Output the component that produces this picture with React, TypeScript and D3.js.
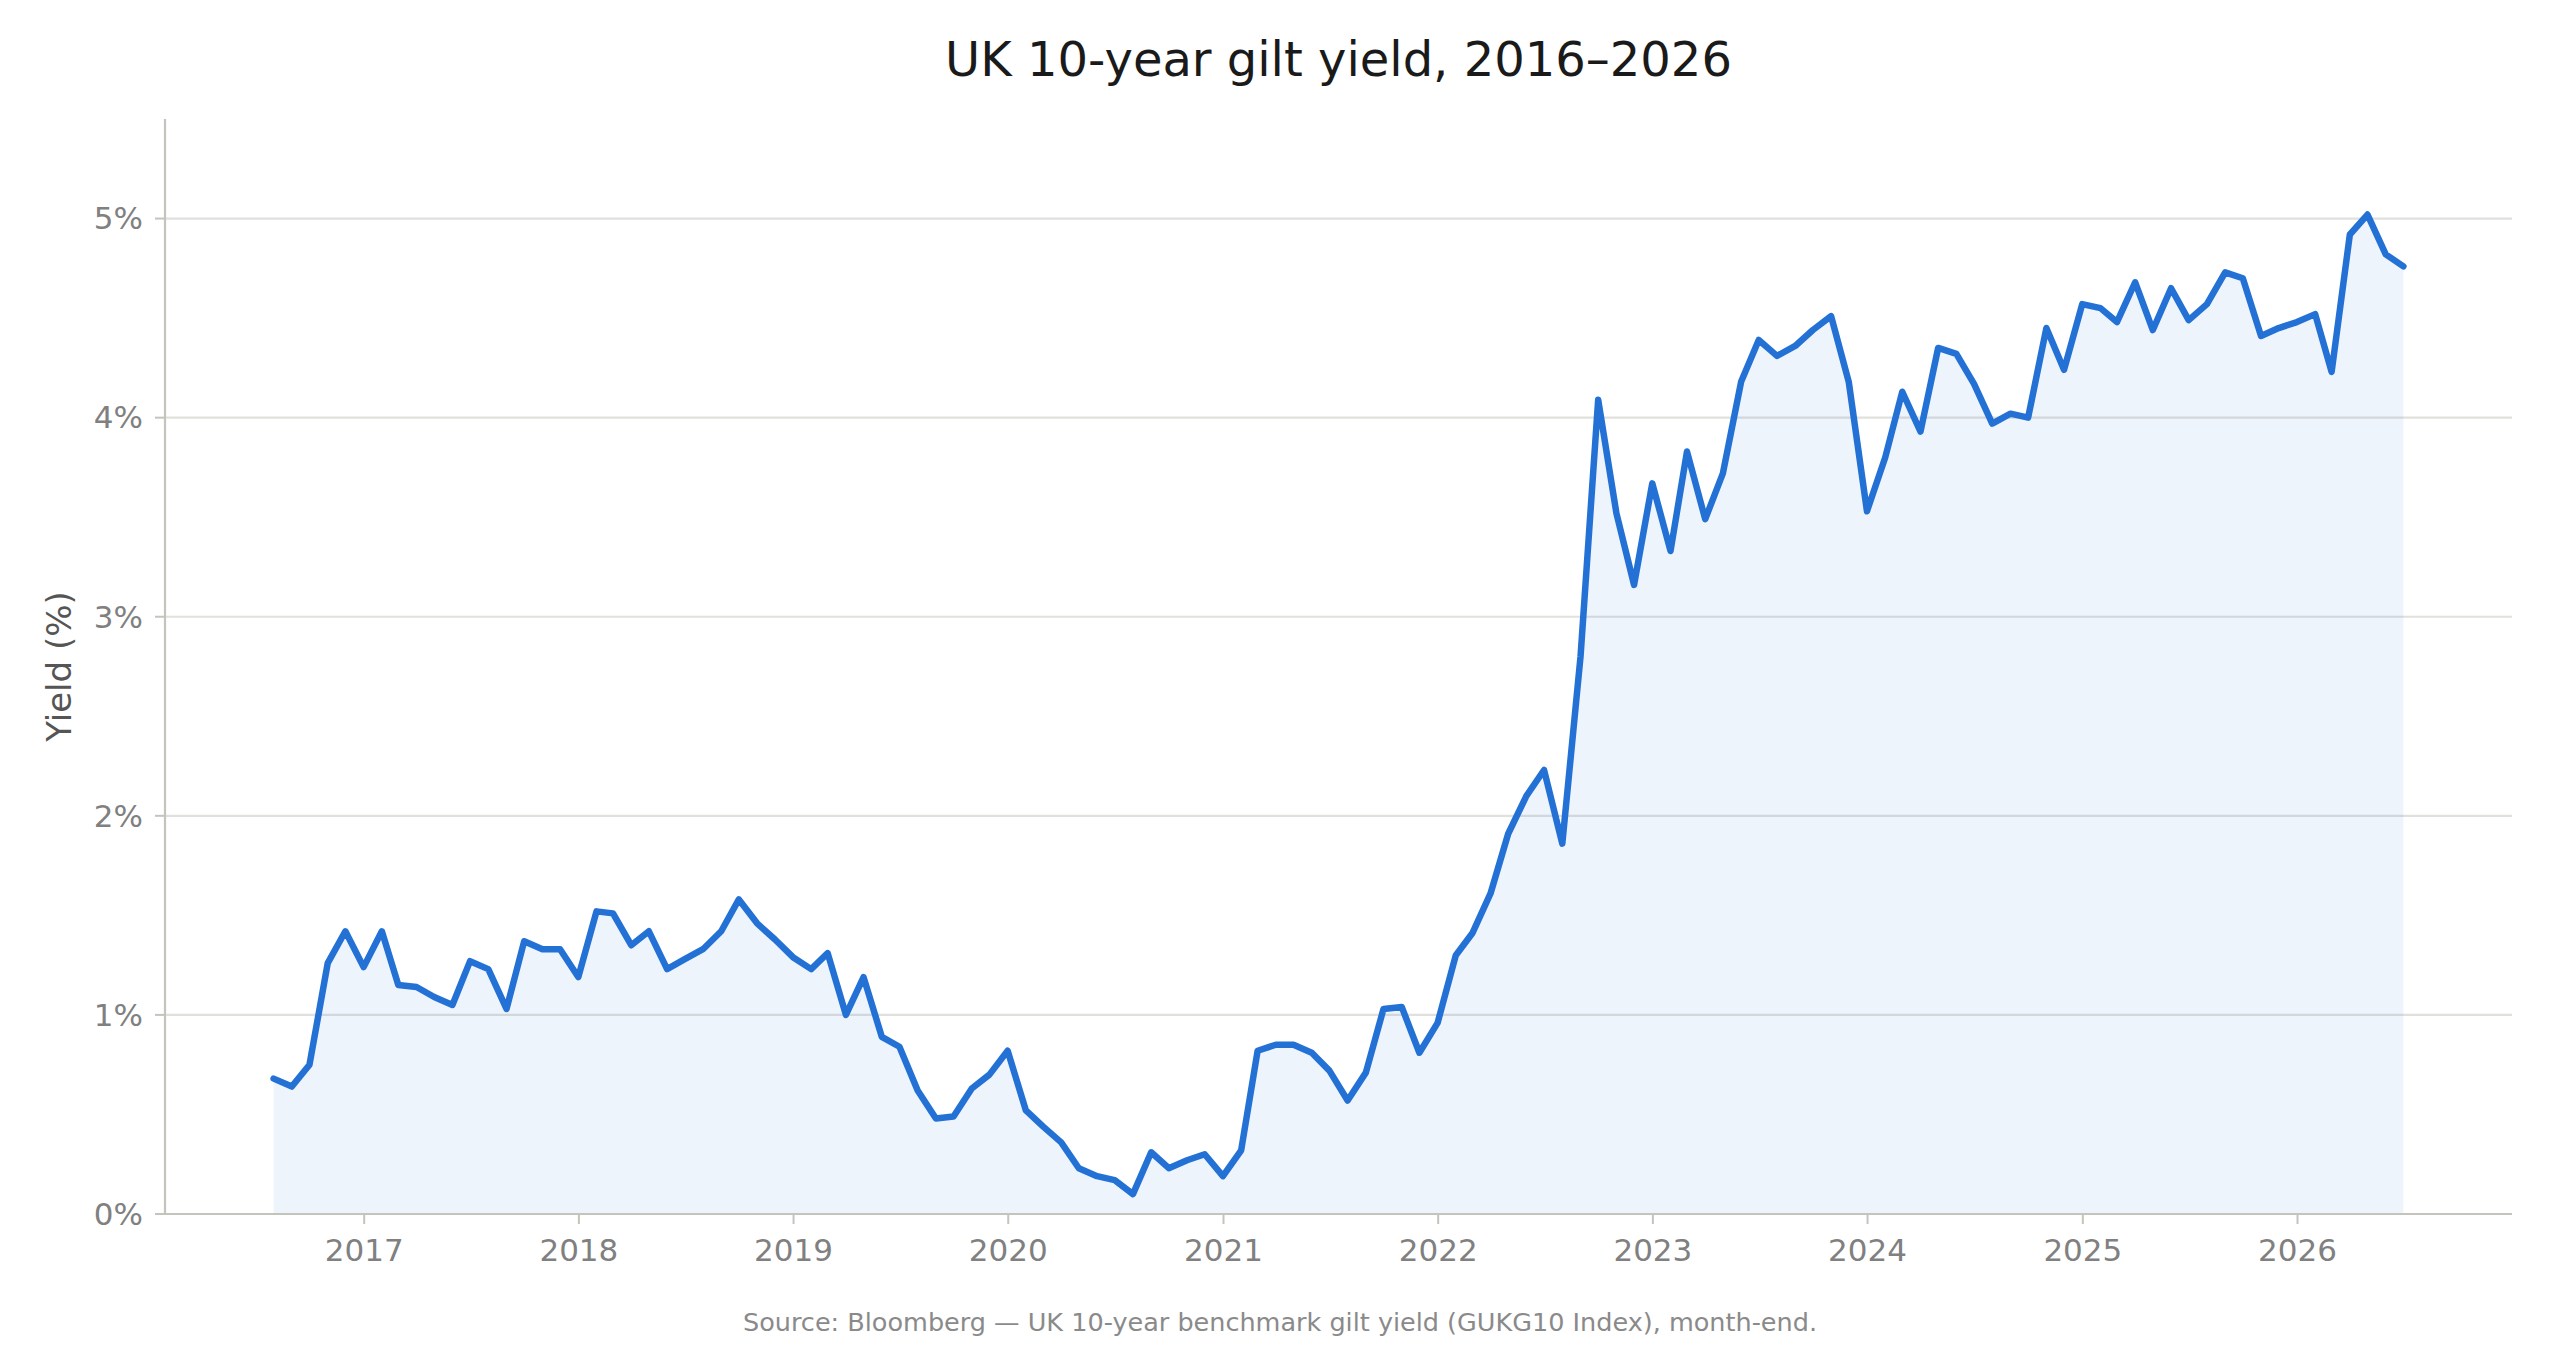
import React from "react";
import * as d3 from "d3";

// Month-end UK 10y gilt yields (%), Jul 2016 -> Jun 2026
const yields = [
    0.68, 0.64, 0.75, 1.26, 1.42, 1.24, 1.42, 1.15, 1.14, 1.09, 1.05, 1.27,
    1.23, 1.03, 1.37, 1.33, 1.33, 1.19, 1.52, 1.51, 1.35, 1.42, 1.23, 1.28,
    1.33, 1.42, 1.58, 1.46, 1.38, 1.29, 1.23, 1.31, 1.0, 1.19, 0.89, 0.84,
    0.62, 0.48, 0.49, 0.63, 0.7, 0.82, 0.52, 0.44, 0.36, 0.23, 0.19, 0.17,
    0.1, 0.31, 0.23, 0.27, 0.3, 0.19, 0.32, 0.82, 0.85, 0.85, 0.81, 0.72,
    0.57, 0.71, 1.03, 1.04, 0.81, 0.96, 1.3, 1.41, 1.61, 1.91, 2.1, 2.23,
    1.86, 2.8, 4.09, 3.52, 3.16, 3.67, 3.33, 3.83, 3.49, 3.72, 4.18, 4.39,
    4.31, 4.36, 4.44, 4.51, 4.18, 3.53, 3.8, 4.13, 3.93, 4.35, 4.32, 4.17,
    3.97, 4.02, 4.0, 4.45, 4.24, 4.57, 4.55, 4.48, 4.68, 4.44, 4.65, 4.49,
    4.57, 4.73, 4.7, 4.41, 4.45, 4.48, 4.52, 4.23, 4.92, 5.02, 4.82, 4.76,
];

// first observation: end of July 2016
const startYear = 2016;
const startMonth = 7;

const yearTicks = [2017, 2018, 2019, 2020, 2021, 2022, 2023, 2024, 2025, 2026];
const yieldTicks = [0, 1, 2, 3, 4, 5];

const title = "UK 10-year gilt yield, 2016\u20132026";
const yLabel = "Yield (%)";
const source =
    "Source: Bloomberg \u2014 UK 10-year benchmark gilt yield (GUKG10 Index), month-end.";

const W = 2560;
const H = 1361;
const margin = { left: 165, right: 48, top: 119, bottom: 147 };
const font = "'DejaVu Sans', sans-serif";
const lineColor = "#2471d6";

export default function App() {
    // month-end dates: day 0 of the following month
    const data = yields.map((v, i) => ({
        date: new Date(startYear, startMonth + i, 0),
        value: v,
    }));

    const innerW = W - margin.left - margin.right;
    const innerH = H - margin.top - margin.bottom;

    // matplotlib style 5% padding on the date range
    const [d0, d1] = d3.extent(data, (d) => d.date) as [Date, Date];
    const pad = (d1.getTime() - d0.getTime()) * 0.051;

    const x = d3
        .scaleTime()
        .domain([new Date(d0.getTime() - pad), new Date(d1.getTime() + pad)])
        .range([margin.left, margin.left + innerW]);

    const y = d3
        .scaleLinear()
        .domain([0, 5.5])
        .range([margin.top + innerH, margin.top]);

    const line = d3
        .line<{ date: Date; value: number }>()
        .x((d) => x(d.date))
        .y((d) => y(d.value));

    const area = d3
        .area<{ date: Date; value: number }>()
        .x((d) => x(d.date))
        .y0(y(0))
        .y1((d) => y(d.value));

    const axisColor = "#c4c4bc";
    const tickText = "#808080";
    const bottom = y(0);

    return (
        <svg
            width={W}
            height={H}
            style={{ position: "absolute", left: 0, top: 0, background: "#fff" }}
            fontFamily={font}
        >
            <text
                x={margin.left + innerW / 2}
                y={76}
                textAnchor="middle"
                fontSize={48}
                fill="#1a1a1a"
            >
                {title}
            </text>

            {/* horizontal grid */}
            {yieldTicks.map((t) => (
                <line
                    key={"g" + t}
                    x1={margin.left}
                    x2={margin.left + innerW}
                    y1={y(t)}
                    y2={y(t)}
                    stroke="#e0e0dc"
                    strokeWidth={2.2}
                />
            ))}

            <path d={area(data) ?? ""} fill={lineColor} fillOpacity={0.08} />
            <path
                d={line(data) ?? ""}
                fill="none"
                stroke={lineColor}
                strokeWidth={6.5}
                strokeLinejoin="round"
                strokeLinecap="round"
            />

            {/* spines */}
            <line
                x1={margin.left}
                x2={margin.left}
                y1={margin.top}
                y2={bottom}
                stroke={axisColor}
                strokeWidth={2.2}
            />
            <line
                x1={margin.left}
                x2={margin.left + innerW}
                y1={bottom}
                y2={bottom}
                stroke={axisColor}
                strokeWidth={2.2}
            />

            {/* y ticks */}
            {yieldTicks.map((t) => (
                <g key={"y" + t} transform={`translate(${margin.left},${y(t)})`}>
                    <line x1={-10} x2={0} stroke={axisColor} strokeWidth={2} />
                    <text
                        x={-22}
                        dy="0.35em"
                        textAnchor="end"
                        fontSize={31}
                        fill={tickText}
                    >
                        {t}%
                    </text>
                </g>
            ))}

            {/* x ticks */}
            {yearTicks.map((yr) => (
                <g
                    key={"x" + yr}
                    transform={`translate(${x(new Date(yr, 0, 1))},${bottom})`}
                >
                    <line y1={0} y2={10} stroke={axisColor} strokeWidth={2} />
                    <text y={47} textAnchor="middle" fontSize={31} fill={tickText}>
                        {yr}
                    </text>
                </g>
            ))}

            <text
                transform={`translate(59,${margin.top + innerH / 2}) rotate(-90)`}
                textAnchor="middle"
                dominantBaseline="central"
                fontSize={34}
                fill="#555"
            >
                {yLabel}
            </text>

            <text x={W / 2} y={1331} textAnchor="middle" fontSize={25.5} fill="#8a8a8a">
                {source}
            </text>
        </svg>
    );
}
